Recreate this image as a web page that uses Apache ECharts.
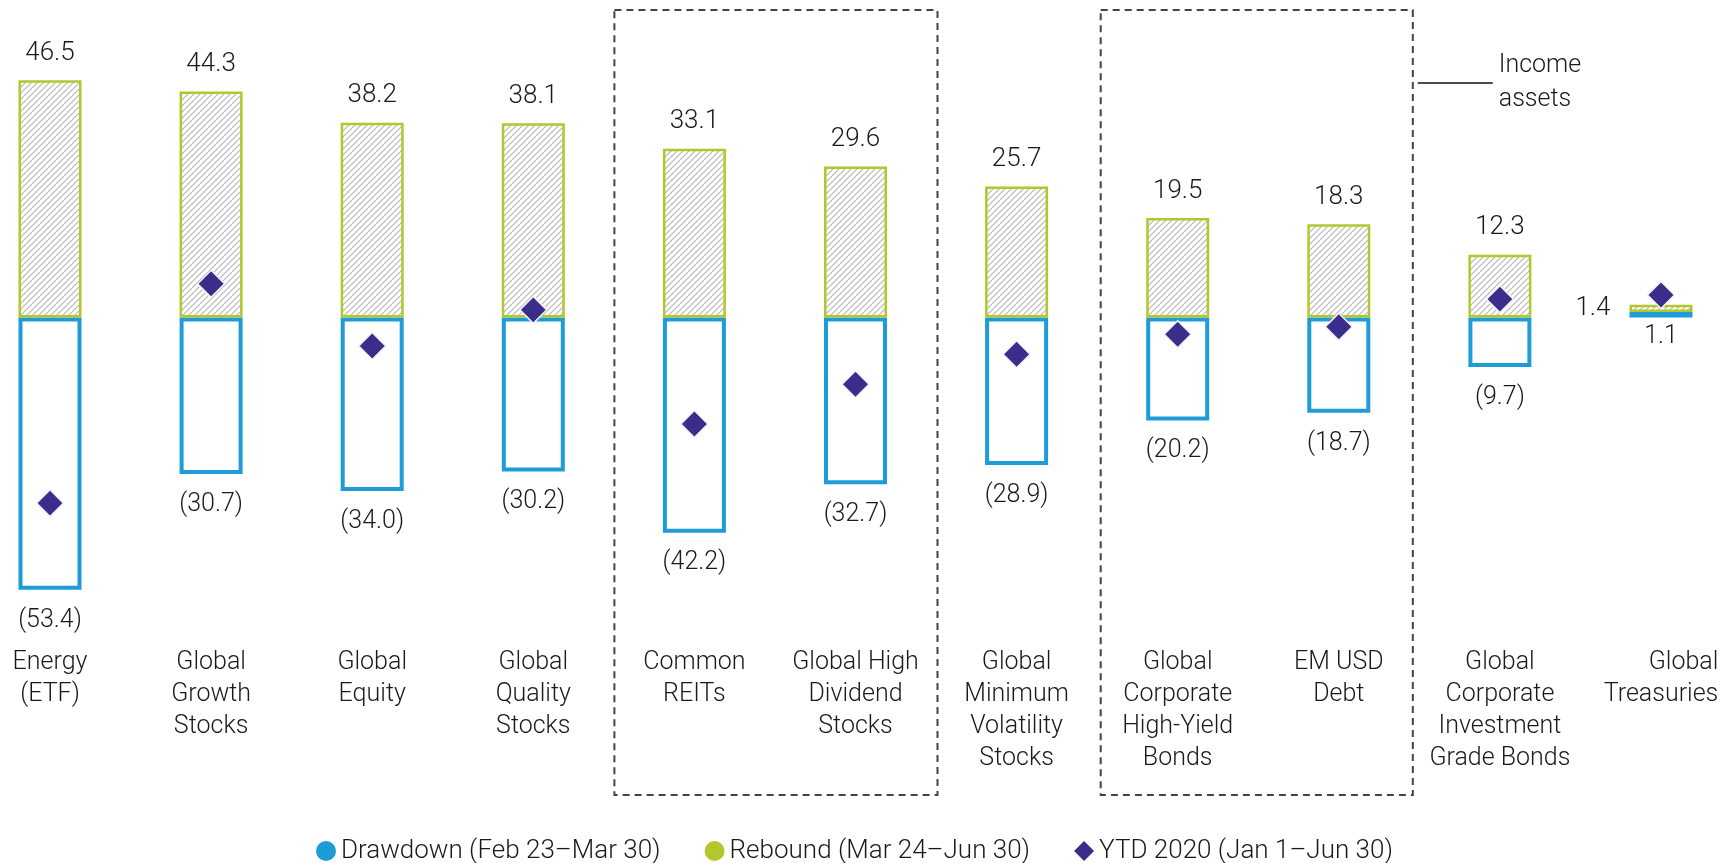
<!DOCTYPE html>
<html>
<head>
<meta charset="utf-8">
<script src="https://cdn.jsdelivr.net/npm/echarts@6/dist/echarts.min.js"></script>
<style>
  html, body { margin: 0; padding: 0; background: #fff; }
  #chart { width: 1736px; height: 863px; }
</style>
</head>
<body>
<div id="chart"></div>
<script>
// Asset classes, left to right
const categories = [
  'Energy\n(ETF)',
  'Global\nGrowth\nStocks',
  'Global\nEquity',
  'Global\nQuality\nStocks',
  'Common\nREITs',
  'Global High\nDividend\nStocks',
  'Global\nMinimum\nVolatility\nStocks',
  'Global\nCorporate\nHigh-Yield\nBonds',
  'EM USD\nDebt',
  'Global\nCorporate\nInvestment\nGrade Bonds',
  'Global\nTreasuries'
];

// Returns in percent
const drawdown = [-53.4, -30.7, -34.0, -30.2, -42.2, -32.7, -28.9, -20.2, -18.7, -9.7, 1.1];
const rebound  = [46.5, 44.3, 38.2, 38.1, 33.1, 29.6, 25.7, 19.5, 18.3, 12.3, 1.4];
const ytd      = [-36.4, 6.6, -5.6, 1.5, -20.9, -13.1, -7.2, -3.3, -1.8, 3.6, 4.4];

const seriesNames = ['Drawdown (Feb 23–Mar 30)', 'Rebound (Mar 24–Jun 30)', 'YTD 2020 (Jan 1–Jun 30)'];

// Groups of categories framed by a dashed box (first and last index)
const incomeGroups = [[4, 5], [7, 8]];
const incomeLabel = 'Income\nassets';

const BLUE = '#1e9cd8';
const GREEN = '#b3c72b';
const PURPLE = '#3b2d8b';
const FONT = 'Roboto';
const TEXT = '#1a1a1a';

// Diagonal hatch fill for the rebound bars
function hatchPattern() {
  const s = 6;
  const c = document.createElement('canvas');
  c.width = s; c.height = s;
  const ctx = c.getContext('2d');
  ctx.fillStyle = '#ffffff';
  ctx.fillRect(0, 0, s, s);
  ctx.strokeStyle = '#b4b4b4';
  ctx.lineWidth = 1.1;
  ctx.beginPath();
  ctx.moveTo(0, s); ctx.lineTo(s, 0);
  ctx.moveTo(-s / 2, s / 2); ctx.lineTo(s / 2, -s / 2);
  ctx.moveTo(s / 2, s * 1.5); ctx.lineTo(s * 1.5, s / 2);
  ctx.stroke();
  return c;
}

function fmtDrawdown(v) {
  return v < 0 ? '(' + Math.abs(v).toFixed(1) + ')' : v.toFixed(1);
}

const chart = echarts.init(document.getElementById('chart'), null, { renderer: 'canvas' });

const labelBase = { fontFamily: FONT, fontWeight: 300, fontSize: 25, color: TEXT };
const lastIdx = categories.length - 1;
const axisFont = { fontFamily: FONT, fontWeight: 300, fontSize: 25, lineHeight: 32, color: TEXT };

const option = {
  backgroundColor: '#ffffff',
  animation: false,
  textStyle: { fontFamily: FONT },
  grid: { left: 50, right: 75, top: 11.5, height: 612 },
  legend: {
    top: 833,
    left: 311,
    itemGap: 44,
    itemWidth: 20,
    itemHeight: 20,
    textStyle: { fontFamily: FONT, fontWeight: 300, fontSize: 26, color: TEXT },
    data: [
      { name: seriesNames[0], icon: 'circle', itemStyle: { color: BLUE, borderWidth: 0 } },
      { name: seriesNames[1], icon: 'circle', itemStyle: { color: GREEN, borderWidth: 0 } },
      { name: seriesNames[2], icon: 'diamond', itemStyle: { color: PURPLE, borderWidth: 0 } }
    ]
  },
  xAxis: {
    type: 'category',
    data: categories,
    boundaryGap: false,
    axisLine: { show: false, onZero: false },
    axisTick: { show: false },
    splitLine: { show: false },
    axisLabel: Object.assign({
      interval: 0,
      margin: 23,
      align: 'center',
      // the right-most label hugs the page edge, so its lines are right-aligned
      formatter: (v, i) => i === lastIdx
        ? v.split('\n').map(s => '{r|' + s + '}').join('\n')
        : v,
      rich: { r: Object.assign({ align: 'right' }, axisFont) }
    }, axisFont)
  },
  yAxis: {
    type: 'value',
    min: -60,
    max: 60,
    show: false,
    splitLine: { show: false }
  },
  series: [
    {
      name: seriesNames[0],
      type: 'bar',
      stack: 'move',
      barWidth: 63,
      clip: false,
      data: drawdown.map((v, i) => i === lastIdx
        ? { value: v, label: { distance: 7 } }
        : v),
      itemStyle: { color: 'rgba(255,255,255,0)', borderColor: BLUE, borderWidth: 4 },
      label: Object.assign({
        show: true,
        position: 'bottom',
        distance: 18,
        formatter: p => fmtDrawdown(p.value)
      }, labelBase),
      z: 2
    },
    {
      name: seriesNames[1],
      type: 'bar',
      stack: 'move',
      barWidth: 63,
      clip: false,
      data: rebound.map((v, i) => i === lastIdx
        ? { value: v, label: { position: 'left', distance: 19 } }
        : v),
      itemStyle: {
        color: { image: hatchPattern(), repeat: 'repeat' },
        borderColor: GREEN,
        borderWidth: 2.5
      },
      label: Object.assign({
        show: true,
        position: 'top',
        distance: 14,
        formatter: p => p.value.toFixed(1)
      }, labelBase, { fontSize: 26 }),
      z: 3
    },
    {
      name: seriesNames[2],
      type: 'scatter',
      symbol: 'diamond',
      symbolSize: 27,
      clip: false,
      data: ytd,
      itemStyle: { color: PURPLE, borderColor: '#f2f0f8', borderWidth: 1.5, opacity: 1 },
      z: 5
    }
  ]
};

chart.setOption(option);

// Dashed frames around the income-asset groups, plus the callout label
function drawFrames() {
  const pads = [[80, 82], [77, 74]];
  const top = 10, bottom = 795;
  const graphics = [];
  let lastRight = 0;
  incomeGroups.forEach(([a, b], k) => {
    const x0 = chart.convertToPixel({ xAxisIndex: 0 }, a) - pads[k][0];
    const x1 = chart.convertToPixel({ xAxisIndex: 0 }, b) + pads[k][1];
    lastRight = x1;
    graphics.push({
      type: 'rect',
      silent: true,
      shape: { x: x0, y: top, width: x1 - x0, height: bottom - top },
      style: { fill: 'none', stroke: '#444444', lineWidth: 2, lineDash: [7, 5] },
      z: 1
    });
  });
  const ly = 83;
  graphics.push({
    type: 'line',
    silent: true,
    shape: { x1: lastRight + 5, y1: ly, x2: lastRight + 80, y2: ly },
    style: { stroke: '#111111', lineWidth: 1.5 }
  });
  graphics.push({
    type: 'text',
    silent: true,
    x: lastRight + 86,
    y: ly,
    style: {
      text: incomeLabel,
      fontFamily: FONT,
      fontWeight: 300,
      fontSize: 25,
      lineHeight: 34,
      fill: TEXT,
      align: 'left',
      verticalAlign: 'middle'
    }
  });
  chart.setOption({ graphic: graphics });
}
drawFrames();
</script>
</body>
</html>
